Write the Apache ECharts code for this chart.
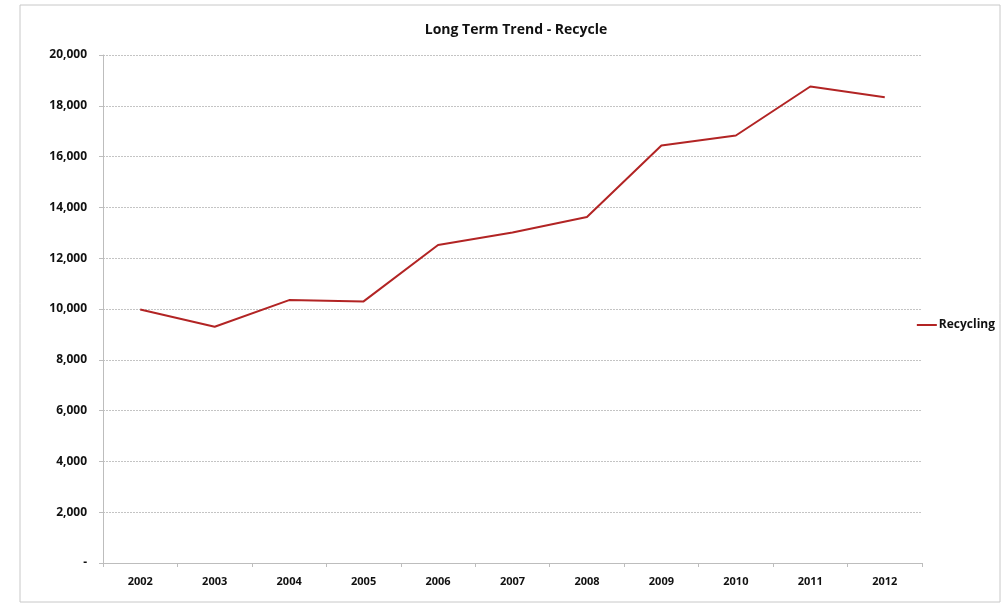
<!DOCTYPE html>
<html>
<head>
<meta charset="utf-8">
<script src="https://cdn.jsdelivr.net/npm/echarts@6/dist/echarts.min.js"></script>
<style>
    html, body {margin: 0; padding: 0; background: #fff;}
    #chart {width: 1008px; height: 605px;}
</style>
</head>
<body>
<div id="chart"></div>
<script>
var years = ['2002', '2003', '2004', '2005', '2006', '2007', '2008', '2009', '2010', '2011', '2012'];
var recycling = [9980, 9300, 10350, 10300, 12520, 13010, 13620, 16440, 16830, 18760, 18340];
var yTicks = [0, 2000, 4000, 6000, 8000, 10000, 12000, 14000, 16000, 18000, 20000];

var chart = echarts.init(document.getElementById('chart'));
var labelFont = '"Open Sans", "Liberation Sans", sans-serif';

var option = {
    animation: false,
    backgroundColor: '#fff',
    title: {
        text: 'Long Term Trend - Recycle',
        left: 511,
        textAlign: 'center',
        top: 18,
        textStyle: {fontFamily: labelFont, fontSize: 14, fontWeight: 'bold', color: '#111'}
    },
    graphic: [{
        type: 'rect',
        shape: {x: 20, y: 5, width: 980, height: 597},
        style: {fill: 'none', stroke: '#c8c8c8', lineWidth: 1}
    }],
    legend: {
        orient: 'vertical',
        right: 8,
        top: 314,
        itemWidth: 20,
        itemHeight: 2,
        itemGap: 4,
        icon: 'rect',
        data: ['Recycling'],
        textStyle: {fontFamily: labelFont, fontSize: 12, fontWeight: 'bold', color: '#111', padding: [0, 0, 0, -3]}
    },
    grid: {
        left: 103,
        right: 86,
        top: 55,
        bottom: 42
    },
    xAxis: {
        type: 'category',
        boundaryGap: true,
        data: years,
        axisLine: {lineStyle: {color: '#bdbdbd'}},
        axisTick: {show: true, length: 4, lineStyle: {color: '#bdbdbd'}},
        axisLabel: {
            margin: 13,
            fontFamily: labelFont,
            fontSize: 11,
            fontWeight: 'bold',
            color: '#111'
        }
    },
    yAxis: {
        type: 'value',
        min: 0,
        max: 20000,
        interval: 2000,
        axisLine: {show: true, lineStyle: {color: '#bdbdbd'}},
        axisTick: {show: true, length: 4, lineStyle: {color: '#bdbdbd'}},
        splitLine: {lineStyle: {color: '#c4c4c4', type: [2, 1], width: 1}},
        axisLabel: {
            margin: 16,
            fontFamily: labelFont,
            fontSize: 12,
            fontWeight: 'bold',
            color: '#111',
            formatter: function (v) {
                if (v === 0) {
                    return '-';
                }
                return v.toLocaleString('en-US');
            }
        }
    },
    series: [{
        name: 'Recycling',
        type: 'line',
        data: recycling,
        symbol: 'none',
        lineStyle: {color: '#b22424', width: 2},
        itemStyle: {color: '#b22424'}
    }]
};

chart.setOption(option);
</script>
</body>
</html>
